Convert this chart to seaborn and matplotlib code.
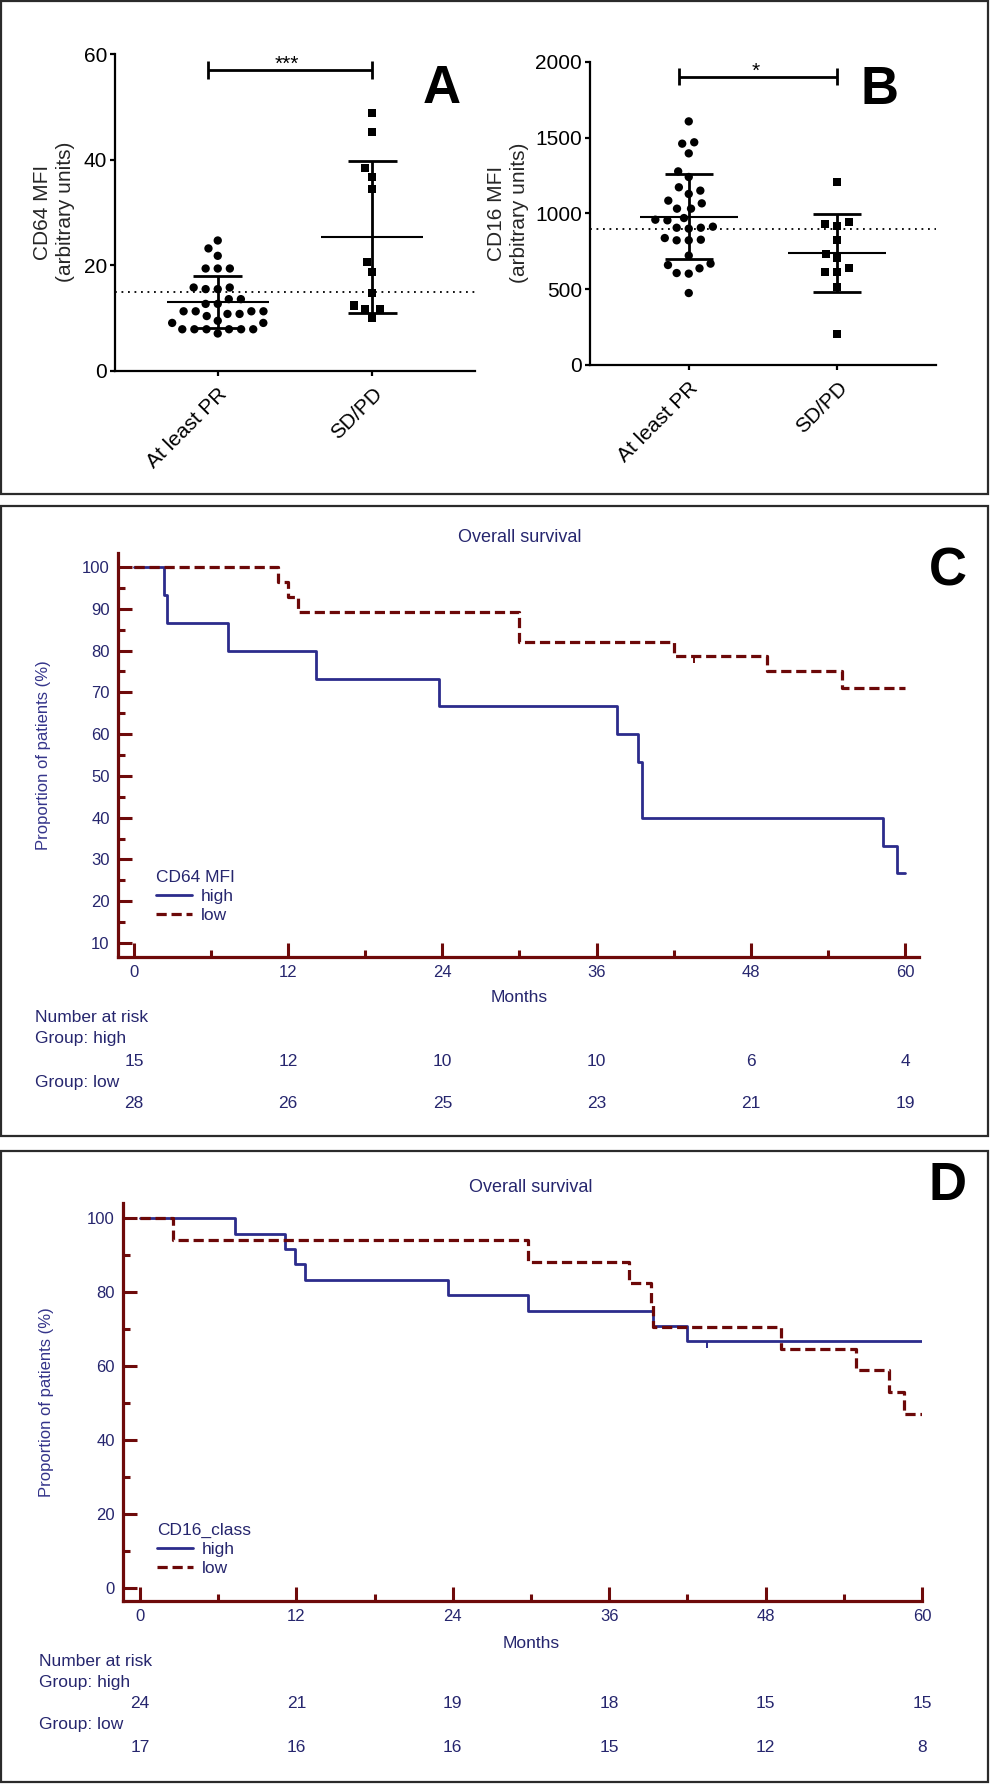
import matplotlib

matplotlib.use("Agg")
import matplotlib.pyplot as plt
import pandas as pd
import seaborn as sns
from matplotlib.patches import Rectangle
from matplotlib.ticker import MultipleLocator
from matplotlib.transforms import blended_transform_factory

W, H, DPI = 990, 1784, 100

# --- panels A/B: scatter dot plots ---
groups = ["At least PR", "SD/PD"]
cd64_pr = [24.7, 23.2, 21.8, 19.4, 19.4, 19.4, 15.8, 15.5, 15.5, 15.8, 13.6, 13.6, 12.7, 12.7, 11.3, 11.3,
           11.3, 11.3, 10.8, 10.8, 10.4, 9.5, 9.1, 9.1, 7.9, 7.9, 7.9, 7.9, 7.9, 7.9, 7.1]
cd64_sdpd = [48.8, 45.2, 38.5, 36.8, 34.4, 20.7, 18.8, 14.7, 12.4, 11.7, 11.7, 10.0]
cd64_cutoff = 15
cd64_bracket = (57.0, 55.3, 58.6)
cd16_pr = [1608, 1470, 1461, 1397, 1278, 1241, 1173, 1151, 1129, 1085, 1067, 1032, 1032, 970, 955, 959,
           913, 906, 906, 900, 838, 827, 823, 823, 722, 669, 660, 638, 607, 603, 475]
cd16_sdpd = [1210, 942, 933, 920, 823, 735, 706, 638, 616, 616, 515, 205]
cd16_cutoff = 900
cd16_bracket = (1900, 1850, 1960)

# --- panels C/D: Kaplan-Meier curves ---
risk_months = [0, 12, 24, 36, 48, 60]
c_high_t = [0, 2.3, 2.6, 7.3, 14.2, 23.7, 37.6, 39.2, 39.5, 58.3, 59.4, 60]
c_high_s = [100, 93.3, 86.7, 80.0, 73.3, 66.7, 60.0, 53.3, 40.0, 33.3, 26.7, 26.7]
c_low_t = [0, 11.2, 12.0, 12.8, 30.0, 42.0, 49.3, 55.1, 60]
c_low_s = [100, 96.4, 92.9, 89.3, 82.1, 78.6, 75.0, 71.0, 71.0]
c_low_cens_t, c_low_cens_s = [43.6], [78.6]
c_risk_high = [15, 12, 10, 10, 6, 4]
c_risk_low = [28, 26, 25, 23, 21, 19]

d_high_t = [0, 7.3, 11.1, 11.9, 12.7, 23.6, 29.8, 39.4, 42.0, 60]
d_high_s = [100, 95.8, 91.7, 87.5, 83.3, 79.2, 75.0, 70.8, 66.7, 66.7]
d_high_cens_t, d_high_cens_s = [43.5], [66.7]
d_low_t = [0, 2.5, 29.8, 37.5, 39.2, 39.4, 49.2, 54.9, 57.5, 58.6, 60]
d_low_s = [100, 94.1, 88.2, 82.4, 76.5, 70.6, 64.7, 58.8, 52.9, 47.1, 47.1]
d_risk_high = [24, 21, 19, 18, 15, 15]
d_risk_low = [17, 16, 16, 15, 12, 8]

NAVY = "#26266e"
BLUE = "#2c2c8c"
RED = "#6c0808"
AXIS = "#6e0a0a"

sns.set_theme(style="ticks")
plt.rcParams["font.family"] = ["Liberation Sans", "DejaVu Sans"]

fig = plt.figure(figsize=(W / DPI, H / DPI), dpi=DPI)


def rect(l, t, r, b):
    return [l / W, 1 - b / H, (r - l) / W, (b - t) / H]


def fx(x):
    return x / W


def fy(y):
    return 1 - y / H


def dot_panel(ax, pr, sdpd, cutoff, ymax, ystep, bracket, stars):
    df = pd.DataFrame({"group": [groups[0]] * len(pr) + [groups[1]] * len(sdpd), "value": pr + sdpd})
    # edge width only widens the swarm spacing, the edge itself is not drawn
    sns.swarmplot(data=df[df["group"] == groups[0]], x="group", y="value", order=groups, marker="o",
                  color="black", size=6.0, linewidth=2.3, edgecolor="none", ax=ax)
    sns.swarmplot(data=df[df["group"] == groups[1]], x="group", y="value", order=groups, marker="s",
                  color="black", size=5.8, linewidth=2.4, edgecolor="none", ax=ax)
    stats = df.groupby("group")["value"].agg(["mean", "std"]).reindex(groups)
    for i, (m, s) in enumerate(zip(stats["mean"], stats["std"])):
        ax.hlines(m, i - 0.33, i + 0.33, color="black", lw=1.5, zorder=4)
        ax.vlines(i, m - s, m + s, color="black", lw=2.0, zorder=4)
        ax.hlines([m - s, m + s], i - 0.16, i + 0.16, color="black", lw=2.0, zorder=4)
    ax.axhline(cutoff, color="black", ls=(0, (1, 2.6)), lw=1.3, zorder=1)

    by, blo, bhi = bracket
    ax.hlines(by, -0.065, 1, color="black", lw=2.0, clip_on=False)
    ax.vlines([-0.065, 1], blo, bhi, color="black", lw=2.0, clip_on=False)
    ax.text(0.45, by, stars, ha="center", va="baseline", fontsize=15, color="black")

    ax.set(xlabel="", ylabel="", xlim=(-0.665, 1.665), ylim=(0, ymax))
    ax.set_yticks(range(0, ymax + 1, ystep))
    sns.despine(ax=ax)
    for side in ["left", "bottom"]:
        ax.spines[side].set_linewidth(1.6)
        ax.spines[side].set_color("black")
    ax.tick_params(direction="out", length=3.8, width=1.6, color="black", labelsize=15, labelcolor="black", pad=2)
    for lab in ax.get_xticklabels():
        lab.set_rotation(45)
        lab.set_ha("right")
        lab.set_va("top")
        lab.set_rotation_mode("anchor")
    ax.tick_params(axis="x", pad=6)


def km_panel(ax, high, low, cens, xlim, ylim, ystep, legend_title, legend_xy):
    sns.lineplot(x=high[0], y=high[1], drawstyle="steps-post", estimator=None, sort=False,
                 color=BLUE, lw=2.0, ax=ax)
    h_line = ax.lines[-1]
    sns.lineplot(x=low[0], y=low[1], drawstyle="steps-post", estimator=None, sort=False,
                 color=RED, lw=2.3, ax=ax)
    l_line = ax.lines[-1]
    l_line.set_dashes([3.2, 1.5])
    for t, s, c in cens:
        ax.plot(t, s, ls="none", marker=3, ms=5, mew=1.4, color=c)

    ax.set(xlabel="", ylabel="", xlim=xlim, ylim=ylim)
    ax.set_xticks(risk_months)
    ax.xaxis.set_minor_locator(MultipleLocator(6))
    ax.set_yticks(range(ystep if ylim[0] > 0 else 0, 101, ystep))
    ax.yaxis.set_minor_locator(MultipleLocator(ystep / 2))
    sns.despine(ax=ax)
    for side in ["left", "bottom"]:
        ax.spines[side].set_linewidth(2.3)
        ax.spines[side].set_color(AXIS)
    ax.tick_params(which="both", direction="in", color=AXIS, width=2.2, labelcolor=NAVY,
                   labelsize=12, bottom=True, left=True, pad=6)
    ax.tick_params(which="major", length=10)
    ax.tick_params(which="minor", length=5)

    leg = ax.legend([h_line, l_line], ["high", "low"], title=legend_title, loc="upper left",
                    bbox_to_anchor=(fx(legend_xy[0]), fy(legend_xy[1])), bbox_transform=fig.transFigure,
                    frameon=False, borderpad=0, borderaxespad=0, handlelength=2.1, handletextpad=0.5,
                    labelspacing=0.22, fontsize=12.5, title_fontsize=12.5, alignment="left")
    leg.get_title().set_color(NAVY)
    for txt in leg.get_texts():
        txt.set_color(NAVY)


def km_texts(ax, title_y, xlabel_y, ylabel_x, label_x, rows_y, risk_high, risk_low):
    tr = blended_transform_factory(ax.transData, fig.transFigure)
    ax.text(30, fy(title_y), "Overall survival", transform=tr, ha="center", va="center", fontsize=13, color=NAVY)
    ax.text(30, fy(xlabel_y), "Months", transform=tr, ha="center", va="center", fontsize=12.5, color=NAVY)
    box = ax.get_position()
    fig.text(fx(ylabel_x), (box.y0 + box.y1) / 2, "Proportion of patients (%)", rotation=90,
             ha="center", va="center", fontsize=12, color="#34348a")
    for y, s in zip([rows_y[0], rows_y[1], rows_y[3]], ["Number at risk", "Group: high", "Group: low"]):
        fig.text(fx(label_x), fy(y), s, ha="left", va="center", fontsize=12.5, color=NAVY)
    for y, counts in [(rows_y[2], risk_high), (rows_y[4], risk_low)]:
        for m, n in zip(risk_months, counts):
            ax.text(m, fy(y), str(n), transform=tr, ha="center", va="center", fontsize=12.5, color=NAVY)


# panel frames
for l, t, r, b in [(1, 1, 988, 494), (1, 506, 988, 1136), (1, 1151, 988, 1782)]:
    fig.add_artist(Rectangle((fx(l), fy(b)), (r - l) / W, (b - t) / H, transform=fig.transFigure,
                             fill=False, lw=1.6, ec="#2b2b2b"))

ax_a = fig.add_axes(rect(115, 54, 475, 371))
dot_panel(ax_a, cd64_pr, cd64_sdpd, cd64_cutoff, 60, 20, cd64_bracket, "***")
fig.text(fx(54), fy(212), "CD64 MFI\n(arbitrary units)", rotation=90, ha="center", va="center",
         fontsize=15, linespacing=1.3)

ax_b = fig.add_axes(rect(590, 62, 936, 365))
dot_panel(ax_b, cd16_pr, cd16_sdpd, cd16_cutoff, 2000, 500, cd16_bracket, "*")
fig.text(fx(508), fy(213), "CD16 MFI\n(arbitrary units)", rotation=90, ha="center", va="center",
         fontsize=15, linespacing=1.3)

ax_c = fig.add_axes(rect(118, 553, 919, 957))
km_panel(ax_c, (c_high_t, c_high_s), (c_low_t, c_low_s), [(c_low_cens_t, c_low_cens_s, RED)],
         (-1.245, 61.09), (6.65, 103.35), 10, "CD64 MFI", (156, 870))
km_texts(ax_c, 537, 998, 44, 35, [1017, 1039, 1061, 1082, 1104], c_risk_high, c_risk_low)

ax_d = fig.add_axes(rect(123, 1203, 922, 1601))
km_panel(ax_d, (d_high_t, d_high_s), (d_low_t, d_low_s), [(d_high_cens_t, d_high_cens_s, BLUE)],
         (-1.3, 60.0), (-3.5, 104.05), 20, "CD16_class", (157, 1523))
km_texts(ax_d, 1188, 1643, 47, 39, [1662, 1683, 1704, 1725, 1747], d_risk_high, d_risk_low)

for s, x, y in [("A", 442, 103), ("B", 879, 104), ("C", 948, 586), ("D", 948, 1200)]:
    fig.text(fx(x), fy(y), s, ha="center", va="baseline", fontsize=38, fontweight="bold", color="black")

fig.savefig("out.png", dpi=DPI)
